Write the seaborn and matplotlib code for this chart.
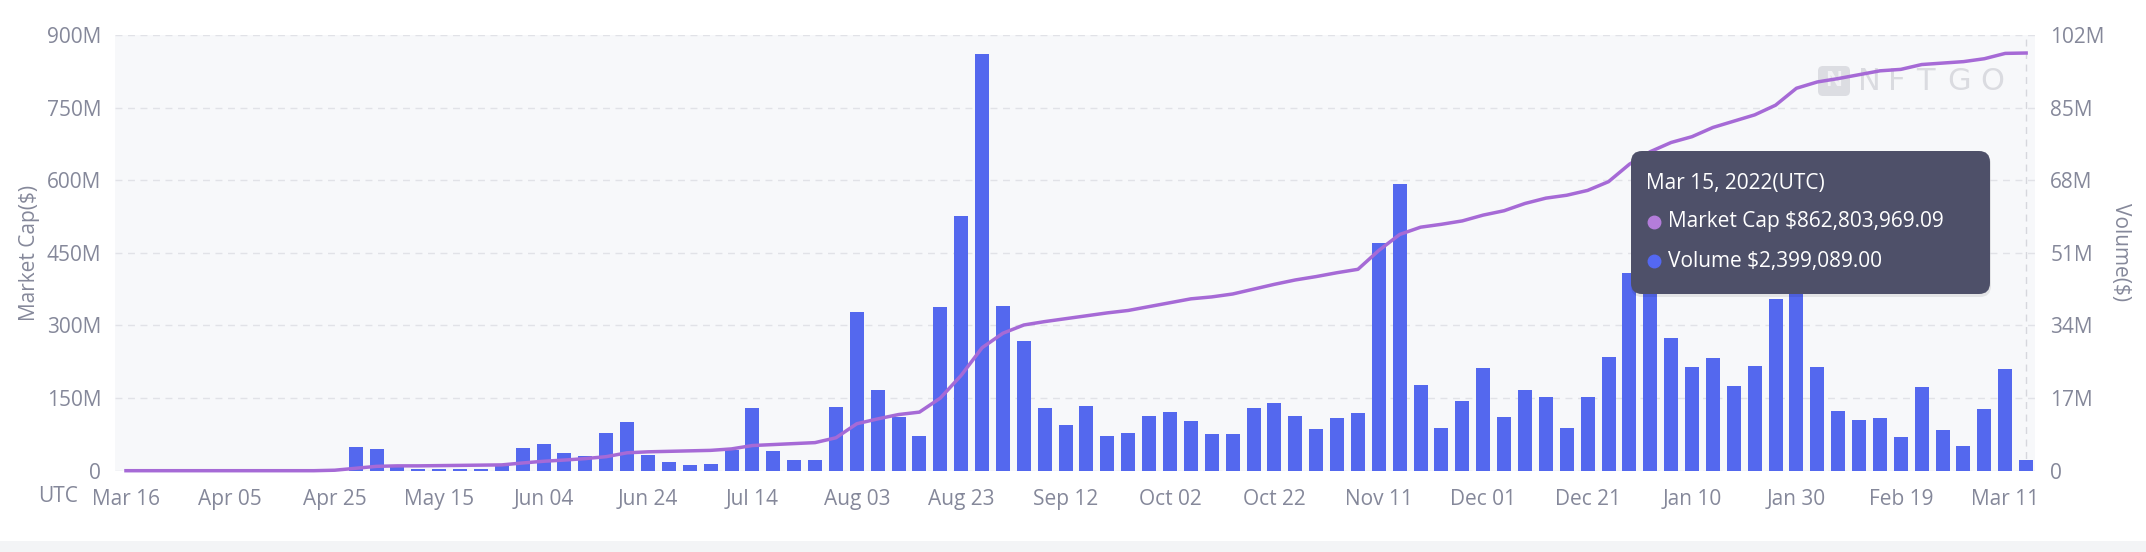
import numpy as np
import pandas as pd
import matplotlib
matplotlib.use("Agg")
import matplotlib.pyplot as plt
import matplotlib.dates as mdates
from matplotlib.patches import FancyBboxPatch, Rectangle
from matplotlib.lines import Line2D
from matplotlib.transforms import IdentityTransform
import seaborn as sns

# ---------------- data ----------------
dates = pd.date_range("2021-03-16", "2022-03-15", freq="4D")  # 92 bins

volume_m = [
    0, 0, 0, 0, 0, 0, 0, 0, 0, 0,
    0, 5.5, 5.0, 0.9, 0.3, 0.5, 0.5, 0.4, 1.3, 5.2,
    6.2, 4.1, 3.4, 8.9, 11.5, 3.7, 2.0, 1.25, 1.6, 4.8,
    14.6, 4.7, 2.4, 2.6, 14.8, 37.2, 18.8, 12.6, 8.1, 38.4,
    59.6, 97.6, 38.6, 30.3, 14.6, 10.6, 15.1, 8.2, 8.9, 12.8,
    13.7, 11.6, 8.6, 8.5, 14.7, 15.9, 12.7, 9.8, 12.3, 13.5,
    53.3, 67.1, 20.0, 10.0, 16.3, 24.0, 12.6, 18.9, 17.2, 10.1,
    17.2, 26.6, 46.2, 45.0, 31.0, 24.3, 26.5, 19.9, 24.6, 40.1,
    44.0, 24.3, 13.9, 11.9, 12.4, 7.8, 19.6, 9.5, 5.8, 14.5,
    23.7, 2.399089,
]

market_cap_m = [
    0, 0, 0, 0, 0, 0, 0, 0, 0, 0,
    1, 5, 9, 10, 10, 10.5, 11, 11.5, 12, 16,
    19.5, 22, 25, 29, 37, 39, 40, 41, 42, 45,
    52, 54, 56, 58, 68, 97, 107, 116, 121, 150,
    197, 254, 284, 301, 308, 314, 320, 326, 331, 339,
    347, 355, 359, 365, 375, 385, 394, 401, 409, 416,
    455, 488, 503, 509, 516, 528, 537, 552, 563, 569,
    579, 597, 633, 659, 678, 690, 709, 722, 735, 755,
    790, 803, 810, 818, 826, 829, 839, 842, 845, 851,
    862, 862.803969,
]

tick_dates = pd.date_range("2021-03-16", "2022-03-11", freq="20D")
left_ticks = [0, 150, 300, 450, 600, 750, 900]
right_ticks = [0, 17, 34, 51, 68, 85, 102]
hover_date = pd.Timestamp("2022-03-15")
tooltip_title = "Mar 15, 2022(UTC)"
tooltip_mcap = "Market Cap $862,803,969.09"
tooltip_vol = "Volume $2,399,089.00"

# ---------------- style ----------------
plt.rcParams["font.family"] = ["Open Sans", "DejaVu Sans"]
GRAY = "#85889a"
BAR = "#5468ee"
LINE = "#a66ad6"

W, H = 2146, 552
fig = plt.figure(figsize=(W / 100, H / 100), dpi=100)
fig.patch.set_facecolor("white")

L, R, T, B = 115, 2035, 35, 470.7
ax = fig.add_axes([L / W, 1 - B / H, (R - L) / W, (B - T) / H])
ax.set_facecolor("#f7f8fa")

df = pd.DataFrame({
    "date": mdates.date2num(dates),
    "volume": volume_m,
    "mcap": market_cap_m,
})

sns.barplot(data=df, x="date", y="volume", native_scale=True, width=0.67,
            color=BAR, saturation=1, ax=ax, edgecolor="none", linewidth=0,
            zorder=2)

ax2 = ax.twinx()
sns.lineplot(data=df, x="date", y="mcap", ax=ax2, color=LINE,
             linewidth=2.5, clip_on=False)

d0 = mdates.date2num(dates[0])
ax.set_xlim(d0 - 2.1, d0 + 365.7)
ax.set_ylim(0, 102)
ax2.set_ylim(0, 900)

# volume axis (bars) on the right, market cap (line) on the left
ax.yaxis.tick_right()
ax.set_yticks(right_ticks)
ax.set_yticklabels([("0" if v == 0 else f"{v}M") for v in right_ticks])
ax2.yaxis.tick_left()
ax2.set_yticks(left_ticks)
ax2.set_yticklabels([("0" if v == 0 else f"{v}M") for v in left_ticks])

ax.set_xticks(mdates.date2num(tick_dates))
ax.xaxis.set_major_formatter(mdates.DateFormatter("%b %d"))

for a in (ax, ax2):
    a.tick_params(axis="both", length=0, labelsize=15, labelcolor=GRAY)
    a.set_xlabel("")
    a.set_ylabel("")
    for s in a.spines.values():
        s.set_visible(False)
ax.tick_params(axis="y", pad=11)
ax2.tick_params(axis="y", pad=10)
ax.tick_params(axis="x", pad=13)

ax.set_axisbelow(True)
ax.grid(axis="y", color="#e1e2e7", linestyle=(0, (5, 4)), linewidth=1)
ax.grid(axis="x", visible=False)
ax2.grid(False)

# hover crosshair
ax.axvline(mdates.date2num(hover_date), color="#d6d7dd",
           linestyle=(0, (5, 4)), linewidth=1, zorder=1)

# watermark (behind the line)
idt = IdentityTransform()
ax.add_patch(FancyBboxPatch((1818, H - 96), 32, 30,
                            boxstyle="round,pad=0,rounding_size=5",
                            transform=idt, fc="#dcdde2", ec="none", zorder=1.5))
ax.text(1834, H - 81, "N", transform=idt, fontsize=15, color="#f2f2f5",
        ha="center", va="center", fontweight="bold", zorder=1.6)
for ch, xc in zip("NFTGO", [1869, 1897, 1925, 1959, 1992]):
    ax.text(xc, H - 81, ch, transform=idt, fontsize=22, color="#dadbe0",
            ha="center", va="center", zorder=1.6,
            family=["DejaVu Sans"])

# axis titles
fig.text(30 / W, 1 - 253 / H, "Market Cap($)", rotation=90, ha="center",
         va="center", fontsize=15, color=GRAY)
fig.text(2120 / W, 1 - 252 / H, "Volume($)", rotation=270, ha="center",
         va="center", fontsize=15, color=GRAY)
fig.text(58 / W, 1 - 496 / H, "UTC", ha="center", va="center",
         fontsize=15, color=GRAY)

# tooltip
fig.add_artist(FancyBboxPatch((1631, H - 297), 360, 144,
                              boxstyle="round,pad=0,rounding_size=11",
                              transform=idt, fc="#000000", alpha=0.08,
                              ec="none", zorder=5))
fig.add_artist(FancyBboxPatch((1631, H - 294), 359, 143,
                              boxstyle="round,pad=0,rounding_size=11",
                              transform=idt, fc="#4e5069", ec="none",
                              zorder=6))
fig.text(1646 / W, 1 - 183 / H, tooltip_title, ha="left", va="center",
         fontsize=15, color="white", zorder=7)
fig.add_artist(Line2D([1654 / W], [1 - 222 / H], marker="o", markersize=9,
                      color="#b47ddb", linestyle="none",
                      transform=fig.transFigure, zorder=7))
fig.text(1668 / W, 1 - 222 / H, tooltip_mcap, ha="left", va="center",
         fontsize=15, color="white", zorder=7)
fig.add_artist(Line2D([1654 / W], [1 - 261 / H], marker="o", markersize=9,
                      color="#5468f2", linestyle="none",
                      transform=fig.transFigure, zorder=7))
fig.text(1668 / W, 1 - 261 / H, tooltip_vol, ha="left", va="center",
         fontsize=15, color="white", zorder=7)

# bottom band
fig.add_artist(Rectangle((0, 0), W, 11, transform=idt, fc="#f3f4f6",
                         ec="none", zorder=0))

fig.savefig("out.png", dpi=100, facecolor="white")
